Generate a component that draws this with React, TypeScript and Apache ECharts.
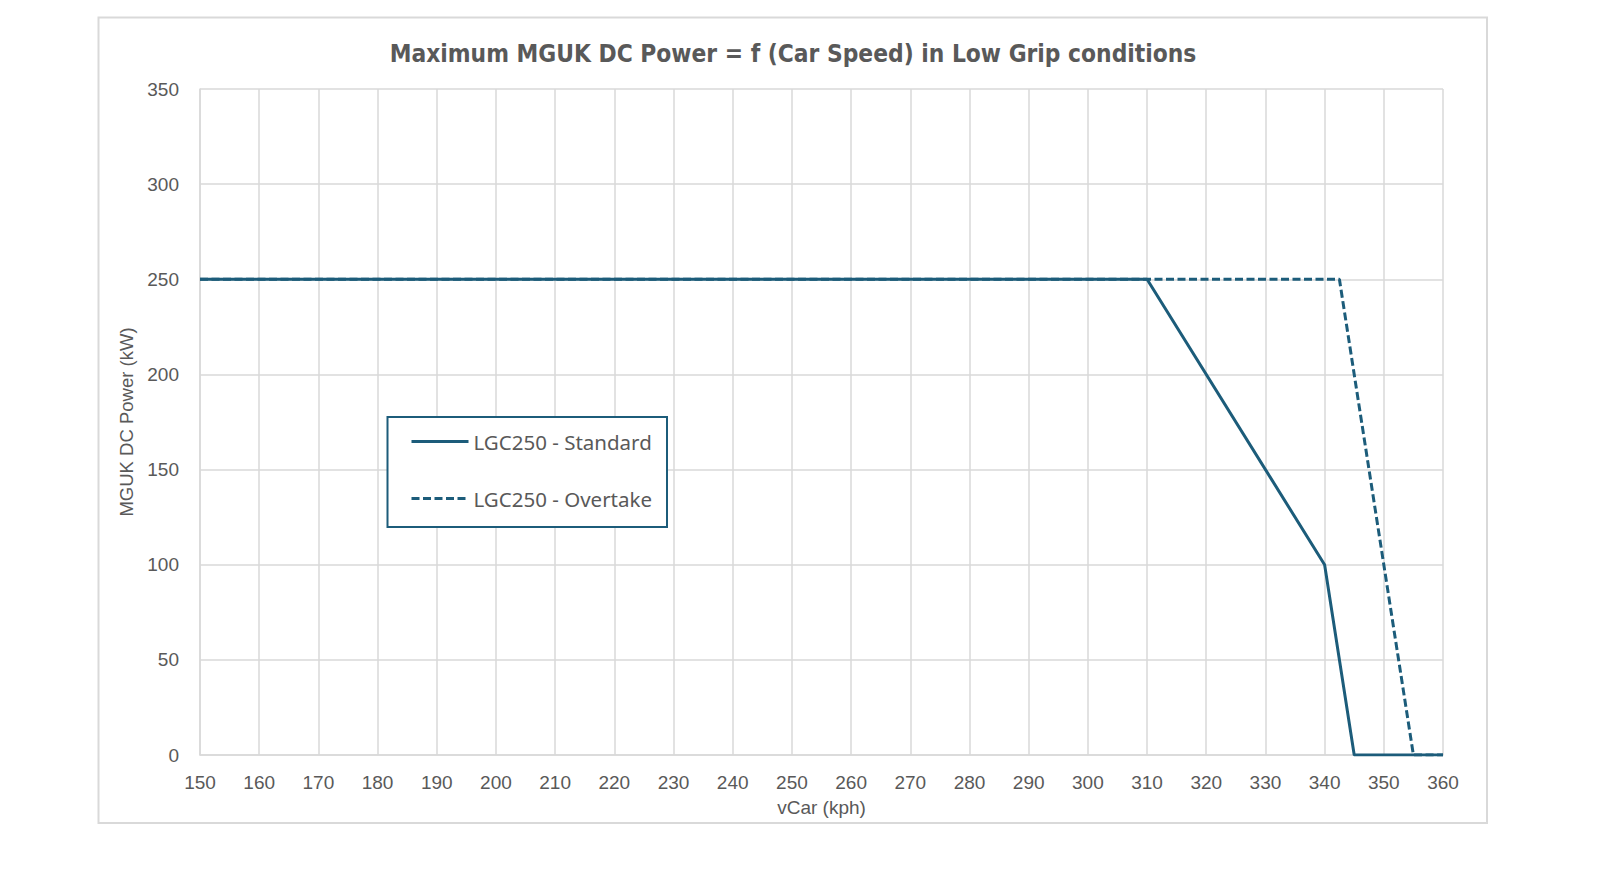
import React, { useEffect, useRef } from "react";
import * as echarts from "echarts";

const titleText = "Maximum MGUK DC Power = f (Car Speed) in Low Grip conditions";
const xName = "vCar (kph)";
const yName = "MGUK DC Power (kW)";
const seriesNames = ["LGC250 - Standard", "LGC250 - Overtake"];
const standardSpeed = [150, 310, 340, 345, 360];
const standardPower = [250, 250, 100, 0, 0];
const overtakeSpeed = [150, 342.5, 355, 360];
const overtakePower = [250, 250, 0, 0];

const LINE = "#1c5c7a";
const GRID = "#d9d9d9";
const TXT = "#595959";

export default function App() {
  const ref = useRef<HTMLDivElement>(null);
  useEffect(() => {
    const chart = echarts.init(ref.current!, null, { renderer: "svg" });
    const std = standardSpeed.map((x, i) => [x, standardPower[i]]);
    const ovt = overtakeSpeed.map((x, i) => [x, overtakePower[i]]);
    chart.setOption({
      animation: false,
      backgroundColor: "#ffffff",
      grid: { left: 200, top: 89, right: 157, bottom: 118 },
      graphic: [
        {
          type: "rect",
          shape: { x: 98.5, y: 17.5, width: 1388.5, height: 805.5 },
          style: { fill: "none", stroke: GRID, lineWidth: 2 },
          silent: true,
          z: -1,
        },
        {
          type: "text",
          x: 793,
          y: 53,
          style: {
            text: titleText,
            fill: TXT,
            font: "bold 24.3px 'Liberation Sans Narrow', 'DejaVu Sans Condensed', sans-serif",
            textAlign: "center",
            textVerticalAlign: "middle",
          },
        },
        {
          type: "rect",
          shape: { x: 387.5, y: 417, width: 279.5, height: 110 },
          style: { fill: "#ffffff", stroke: LINE, lineWidth: 2 },
          z: 100,
        },
      ],
      legend: {
        orient: "vertical",
        left: 410,
        top: 431,
        padding: 0,
        itemWidth: 57,
        itemHeight: 20,
        itemGap: 36,
        z: 101,
        data: seriesNames,
        itemStyle: { opacity: 0 },
        lineStyle: { width: 3 },
        textStyle: { color: TXT, fontSize: 20.5, fontFamily: "'Noto Sans', sans-serif" },
      },
      xAxis: {
        type: "value",
        min: 150,
        max: 360,
        interval: 10,
        name: xName,
        nameLocation: "middle",
        nameGap: 43,
        nameTextStyle: { color: TXT, fontSize: 19, fontFamily: "'Liberation Sans', Arial, sans-serif" },
        axisLine: { show: true, lineStyle: { color: GRID, width: 1.5 } },
        axisTick: { show: false },
        axisLabel: { color: TXT, fontSize: 19, margin: 18, fontFamily: "'Liberation Sans', Arial, sans-serif" },
        splitLine: { show: true, lineStyle: { color: GRID, width: 1.5 } },
      },
      yAxis: {
        type: "value",
        min: 0,
        max: 350,
        interval: 50,
        name: yName,
        nameLocation: "middle",
        nameGap: 63,
        nameTextStyle: { color: TXT, fontSize: 18.5, fontFamily: "'Liberation Sans', Arial, sans-serif" },
        axisLine: { show: true, lineStyle: { color: GRID, width: 1.5 } },
        axisTick: { show: false },
        axisLabel: { color: TXT, fontSize: 19, margin: 21, fontFamily: "'Liberation Sans', Arial, sans-serif" },
        splitLine: { show: true, lineStyle: { color: GRID, width: 1.5 } },
      },
      series: [
        {
          name: seriesNames[1],
          type: "line",
          data: ovt,
          showSymbol: false,
          symbol: "none",
          z: 2,
          lineStyle: { color: LINE, width: 3, type: [8, 3.5] },
          itemStyle: { color: LINE },
        },
        {
          name: seriesNames[0],
          type: "line",
          data: std,
          showSymbol: false,
          symbol: "none",
          z: 3,
          lineStyle: { color: LINE, width: 3 },
          itemStyle: { color: LINE },
        },
      ],
    });
    return () => chart.dispose();
  }, []);
  return <div ref={ref} style={{ position: "absolute", left: 0, top: 0, width: 1600, height: 873 }} />;
}
